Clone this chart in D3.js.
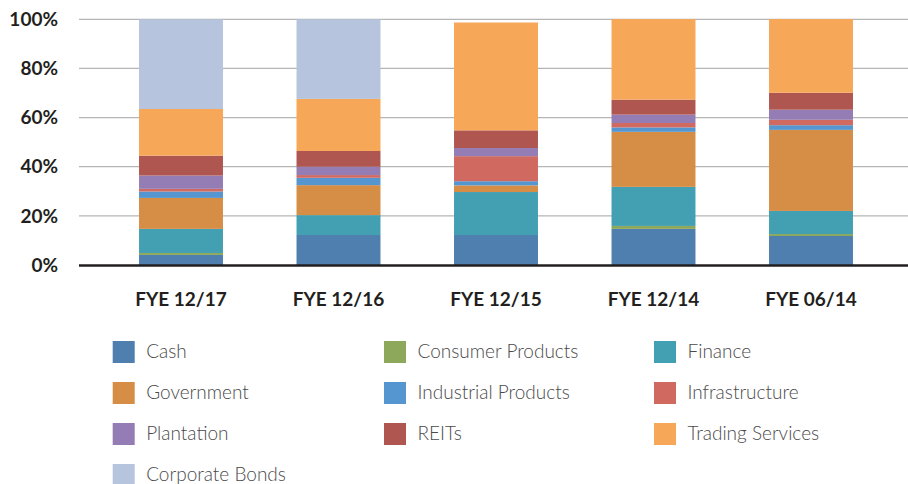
<!DOCTYPE html>
<meta charset="utf-8">
<style>
body { margin: 0; background: #fff; }
.grid line { stroke: #b5b5b5; stroke-width: 1.3px; }
.ylab, .xlab { font-family: Lato, "Open Sans", sans-serif; font-weight: 700; font-size: 19px; fill: #231f20; }
.legend text { font-family: Lato, "Open Sans", sans-serif; font-weight: 300; font-size: 19px; fill: #4a4a4a; }
</style>
<svg width="908" height="484"></svg>
<script src="https://d3js.org/d3.v7.min.js"></script>
<script>

var categories = ["FYE 12/17", "FYE 12/16", "FYE 12/15", "FYE 12/14", "FYE 06/14"];
var sectors = ["Cash", "Consumer Products", "Finance", "Government", "Industrial Products",
               "Infrastructure", "Plantation", "REITs", "Trading Services", "Corporate Bonds"];
var colors = ["#4e7fae", "#8da85b", "#43a0b3", "#d68e46", "#5596d0",
              "#d0695f", "#947cb4", "#b05651", "#f7a758", "#b6c4de"];

// percent of portfolio, one array per sector, in category order
var cash           = [4.1, 12.2, 12.2, 14.7, 11.8];
var consumer       = [0.8, 0,    0,    1.2,  0.8];
var finance        = [9.8, 8.1,  17.5, 15.9, 9.4];
var government     = [12.6, 12.2, 2.7, 22.4, 33.0];
var industrial     = [2.6, 3.0,  1.7,  1.8,  1.9];
var infrastructure = [1.1, 1.1,  10.2, 1.8,  2.2];
var plantation     = [5.4, 3.4,  3.3,  3.4,  4.1];
var reits          = [8.1, 6.4,  7.2,  6.1,  6.9];
var trading        = [19.0, 21.2, 43.9, 32.8, 30.0];
var corporate      = [36.5, 32.4, 0,   0,    0];

var yTicks = [0, 20, 40, 60, 80, 100];

var series = [cash, consumer, finance, government, industrial,
              infrastructure, plantation, reits, trading, corporate];

var rows = categories.map(function(c, i) {
  var r = { cat: c };
  sectors.forEach(function(s, j) { r[s] = series[j][i]; });
  return r;
});

var svg = d3.select("svg");

var x = d3.scaleBand()
    .domain(categories)
    .range([102.25, 889.75])
    .paddingInner(0.467)
    .paddingOuter(0.2335);

var y = d3.scaleLinear()
    .domain([0, 100])
    .range([265, 19.3]);

var stacked = d3.stack().keys(sectors)(rows);

// gridlines
svg.append("g")
    .attr("class", "grid")
  .selectAll("line")
  .data(yTicks.filter(function(d) { return d > 0; }))
  .enter().append("line")
    .attr("x1", 79)
    .attr("x2", 908)
    .attr("y1", function(d) { return y(d); })
    .attr("y2", function(d) { return y(d); });

// bars
svg.append("g")
  .selectAll("g")
  .data(stacked)
  .enter().append("g")
    .attr("fill", function(d, i) { return colors[i]; })
  .selectAll("rect")
  .data(function(d) { return d; })
  .enter().append("rect")
    .attr("x", function(d) { return x(d.data.cat); })
    .attr("width", x.bandwidth())
    .attr("y", function(d) { return y(d[1]); })
    .attr("height", function(d) { return y(d[0]) - y(d[1]); });

// baseline
svg.append("line")
    .attr("x1", 79)
    .attr("x2", 908)
    .attr("y1", y(0) + 0.5)
    .attr("y2", y(0) + 0.5)
    .attr("stroke", "#231f20")
    .attr("stroke-width", 2.5);

// y labels
svg.append("g")
  .selectAll("text")
  .data(yTicks)
  .enter().append("text")
    .attr("class", "ylab")
    .attr("x", 58)
    .attr("y", function(d) { return y(d); })
    .attr("dy", "0.35em")
    .attr("text-anchor", "end")
    .text(function(d) { return d + "%"; });

// x labels
svg.append("g")
  .selectAll("text")
  .data(categories)
  .enter().append("text")
    .attr("class", "xlab")
    .attr("x", function(d) { return x(d) + x.bandwidth() / 2; })
    .attr("y", 306)
    .attr("text-anchor", "middle")
    .text(function(d) { return d; });

// legend
var colX = [112.7, 384, 654];
var legend = svg.append("g")
    .attr("class", "legend")
  .selectAll("g")
  .data(sectors)
  .enter().append("g")
    .attr("transform", function(d, i) {
      return "translate(" + colX[i % 3] + "," + (341 + Math.floor(i / 3) * 41) + ")";
    });

legend.append("rect")
    .attr("width", 22)
    .attr("height", 22)
    .attr("fill", function(d, i) { return colors[i]; });

legend.append("text")
    .attr("x", 33.5)
    .attr("y", 11)
    .attr("dy", "0.33em")
    .text(function(d) { return d; });

</script>
